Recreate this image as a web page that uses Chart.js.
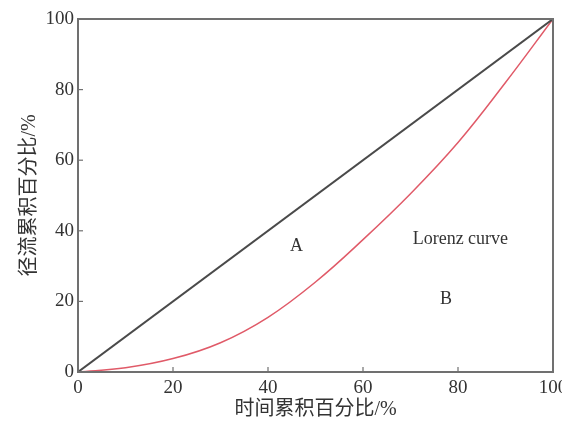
<!DOCTYPE html>
<html>
<head>
<meta charset="utf-8">
<script src="https://cdn.jsdelivr.net/npm/chart.js@4"></script>
<style>
  html,body{margin:0;padding:0;background:#fff;}
  #wrap{width:562px;height:425px;position:relative;}
</style>
</head>
<body>
<div id="wrap"><canvas id="c"></canvas></div>
<script>
// data
const timePct   =[0,10,20,30,40,50,60,70,80,90,100];
const lorenzPct =[0,1.2,3.8,8.3,15.5,25.5,37.5,50.5,65,82,100];
const equalLine =[{x:0,y:0},{x:100,y:100}];
const tickVals  =[0,20,40,60,80,100];
const xTitle="时间累积百分比/%", yTitle="径流累积百分比/%";
const labels=[
  {text:"A", x:46, y:35.5},
  {text:"Lorenz curve", x:80.5, y:37.5},
  {text:"B", x:77.5, y:20.5}
];

const serif='"Liberation Serif","Noto Sans CJK SC",serif';

// frame, inward ticks and the area labels
const framePlugin={
  id:'frame',
  afterDraw(chart){
    const {ctx,chartArea:a,scales:{x,y}}=chart;
    ctx.save();
    ctx.strokeStyle='#707070'; ctx.lineWidth=2;
    ctx.strokeRect(a.left,a.top,a.right-a.left,a.bottom-a.top);
    ctx.lineWidth=1.2;
    tickVals.forEach(v=>{
      let px=x.getPixelForValue(v), py=y.getPixelForValue(v);
      ctx.beginPath(); ctx.moveTo(px,a.bottom); ctx.lineTo(px,a.bottom-5); ctx.stroke();
      ctx.beginPath(); ctx.moveTo(a.left,py); ctx.lineTo(a.left+5,py); ctx.stroke();
    });
    ctx.fillStyle='#333'; ctx.font='18px '+serif;
    ctx.textAlign='center'; ctx.textBaseline='middle';
    labels.forEach(l=>ctx.fillText(l.text,x.getPixelForValue(l.x),y.getPixelForValue(l.y)));
    ctx.restore();
  }
};

function noPad(s){ s.paddingLeft=0; s.paddingRight=0; s.paddingTop=0; s.paddingBottom=0; }

new Chart(document.getElementById('c'),{
  type:'scatter',
  data:{datasets:[
    {data:equalLine, showLine:true, borderColor:'#4a4a4a', borderWidth:2, pointRadius:0},
    {data:timePct.map((t,i)=>({x:t,y:lorenzPct[i]})), showLine:true, tension:0.4,
     borderColor:'#e05a68', borderWidth:1.5, pointRadius:0}
  ]},
  options:{
    responsive:true, maintainAspectRatio:false, animation:false,
    layout:{padding:{top:19,right:9,left:0,bottom:0}},
    plugins:{legend:{display:false},tooltip:{enabled:false}},
    scales:{
      x:{type:'linear',min:0,max:100,
        afterBuildTicks(s){ s.ticks=tickVals.map(v=>({value:v})); },
        afterFit(s){ s.height=53; noPad(s); },
        grid:{display:false,drawTicks:false}, border:{display:false},
        ticks:{color:'#333',font:{family:serif,size:19},padding:5,maxRotation:0},
        title:{display:true,text:xTitle,color:'#333',font:{family:serif,size:20},padding:{top:0,bottom:3}}
      },
      y:{type:'linear',min:0,max:100,
        afterBuildTicks(s){ s.ticks=tickVals.map(v=>({value:v})); },
        afterFit(s){ s.width=78; noPad(s); },
        grid:{display:false,drawTicks:false}, border:{display:false},
        ticks:{color:'#333',font:{family:serif,size:19},padding:4},
        title:{display:true,text:yTitle,color:'#333',font:{family:serif,size:20},padding:{top:18,bottom:0}}
      }
    }
  },
  plugins:[framePlugin]
});
</script>
</body>
</html>
